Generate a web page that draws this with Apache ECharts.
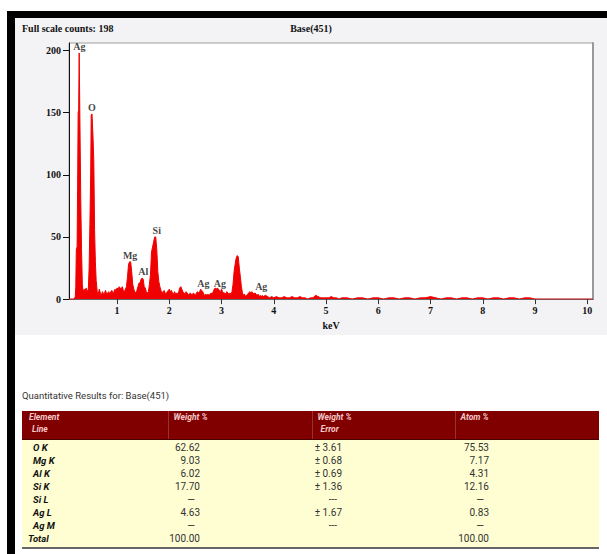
<!DOCTYPE html>
<html>
<head>
    <meta charset="utf-8">
    <title>Base(451) EDS spectrum</title>
    <script src="https://cdn.jsdelivr.net/npm/echarts@6/dist/echarts.min.js"></script>
    <style>
        body, html {
            margin: 0;
            width: 607px;
            height: 554px;
            overflow: hidden;
            background: #fff;
        }

        #frame {
            position: absolute;
            left: 7px;
            top: 11px;
            width: 600px;
            height: 543px;
            background: #000;
        }

        #sheet {
            position: absolute;
            left: 8px;
            top: 7px;
            right: 0;
            bottom: 0;
            background: #fff;
        }

        #spectrum {
            position: absolute;
            left: 0;
            top: 0;
            width: 592px;
            height: 317px;
            background: #f3f3f5;
        }

        #caption {
            position: absolute;
            left: 7px;
            top: 372px;
            font-family: Roboto, "Liberation Sans", sans-serif;
            font-size: 9.5px;
            line-height: 11px;
            color: #333;
        }

        #results {
            position: absolute;
            left: 7px;
            top: 393px;
            width: 577px;
            border-collapse: collapse;
            table-layout: fixed;
            font-family: Roboto, "Liberation Sans", sans-serif;
            font-size: 10px;
            color: #333;
        }

        #results th {
            background: #800000;
            color: #f4c8c8;
            font-size: 8.5px;
            font-style: italic;
            font-weight: bold;
            text-align: left;
            vertical-align: top;
            height: 28px;
            padding: 0 0 0 5px;
            line-height: 12px;
            border-left: 1px solid #9a3030;
            border-bottom: 1px solid #4a0000;
        }

        #results th:first-child {
            border-left: none;
            padding-left: 7px;
        }

        #results th span {
            padding-left: 3px;
        }

        #results td {
            background: #fefed2;
            height: 13px;
            line-height: 13px;
            padding: 0;
            text-align: right;
            white-space: nowrap;
        }

        #results td.el {
            text-align: left;
            padding-left: 11px;
            font-size: 9.5px;
            font-style: italic;
            font-weight: bold;
            color: #111;
        }

        #results td.total {
            padding-left: 6px;
        }

        #results tr.first td {
            padding-top: 1px;
        }

        #results tr.last td {
            padding-bottom: 2px;
            border-bottom: 2px solid #666;
        }
    </style>
</head>
<body>
<div id="frame">
    <div id="sheet">
        <div id="spectrum"></div>
        <div id="caption">Quantitative Results for: Base(451)</div>
        <table id="results"></table>
    </div>
</div>
<script type="text/javascript">
    var fullScale = 198;
    var sampleName = 'Base(451)';

    // spectrum: energy (keV) and counts
    var energy = [
        0.08, 0.18, 0.20, 0.21, 0.22, 0.235, 0.245, 0.255, 0.265, 0.275, 0.285, 0.295, 0.305, 0.32, 0.335,
        0.35, 0.37, 0.39, 0.41, 0.43, 0.45, 0.465, 0.48, 0.495, 0.505, 0.52, 0.53, 0.54, 0.555, 0.57,
        0.585, 0.60, 0.62, 0.64, 0.66, 0.68, 0.70, 0.72, 0.74, 0.76, 0.78, 0.80, 0.82, 0.84, 0.86,
        0.88, 0.90, 0.92, 0.94, 0.96, 0.98, 1.00, 1.02, 1.04, 1.06, 1.08, 1.10, 1.12, 1.14, 1.16,
        1.18, 1.20, 1.22, 1.24, 1.26, 1.28, 1.30, 1.32, 1.34, 1.36, 1.38, 1.40, 1.42, 1.44, 1.46,
        1.48, 1.50, 1.52, 1.54, 1.56, 1.58, 1.60, 1.62, 1.64, 1.66, 1.68, 1.70, 1.72, 1.74, 1.76,
        1.78, 1.80, 1.82, 1.84, 1.86, 1.88, 1.90, 1.92, 1.94, 1.96, 1.98, 2.00, 2.02, 2.04, 2.06,
        2.08, 2.10, 2.12, 2.14, 2.16, 2.18, 2.20, 2.22, 2.24, 2.26, 2.28, 2.30, 2.32, 2.34, 2.36,
        2.38, 2.40, 2.42, 2.44, 2.46, 2.48, 2.50, 2.52, 2.54, 2.56, 2.58, 2.60, 2.62, 2.64, 2.66,
        2.68, 2.70, 2.72, 2.74, 2.76, 2.78, 2.80, 2.82, 2.84, 2.86, 2.88, 2.90, 2.92, 2.94, 2.96,
        2.98, 3.00, 3.02, 3.04, 3.06, 3.08, 3.10, 3.12, 3.14, 3.16, 3.18, 3.20, 3.22, 3.24, 3.26,
        3.28, 3.30, 3.32, 3.34, 3.36, 3.38, 3.40, 3.42, 3.44, 3.46, 3.48, 3.50, 3.52, 3.54, 3.56,
        3.58, 3.60, 3.62, 3.64, 3.66, 3.68, 3.70, 3.72, 3.74, 3.76, 3.78, 3.80, 3.84, 3.88, 3.92,
        3.96, 4.00, 4.05, 4.10, 4.15, 4.20, 4.25, 4.30, 4.35, 4.40, 4.45, 4.50, 4.55, 4.60, 4.65,
        4.70, 4.75, 4.80, 4.85, 4.90, 4.95, 5.00, 5.05, 5.10, 5.15, 5.20, 5.25, 5.30, 5.40, 5.50,
        5.60, 5.70, 5.80, 5.90, 6.00, 6.10, 6.20, 6.30, 6.40, 6.50, 6.60, 6.70, 6.80, 6.90, 7.00,
        7.10, 7.20, 7.30, 7.40, 7.50, 7.60, 7.70, 7.80, 7.90, 8.00, 8.10, 8.20, 8.30, 8.40, 8.50,
        8.60, 8.70, 8.80, 8.90, 9.00, 9.10, 9.50, 10.11
    ];
    var counts = [
        0, 0, 2, 10, 40, 42, 90, 150, 152, 198, 198, 120, 80, 40, 12,
        6, 8, 7, 9, 6, 8, 25, 60, 100, 148, 149, 149, 130, 110, 55,
        30, 15, 6, 4, 8, 5, 3, 6, 4, 5, 7, 4, 5, 6, 4,
        6, 7, 5, 6, 8, 7, 9, 8, 10, 9, 8, 10, 7, 6, 8,
        10, 18, 28, 30, 30, 22, 12, 8, 6, 5, 7, 10, 13, 13, 16,
        17, 16, 10, 9, 6, 5, 6, 12, 20, 38, 42, 46, 50, 50, 40,
        22, 14, 10, 7, 6, 5, 7, 5, 4, 6, 7, 8, 6, 7, 5,
        4, 6, 4, 5, 4, 6, 9, 10, 8, 6, 5, 4, 6, 5, 4,
        3, 5, 4, 3, 5, 4, 3, 5, 6, 5, 6, 8, 7, 6, 4,
        3, 4, 3, 4, 3, 4, 5, 4, 6, 8, 9, 8, 9, 8, 7,
        6, 8, 6, 5, 5, 4, 6, 5, 4, 5, 4, 6, 12, 22, 28,
        33, 35, 34, 25, 18, 10, 5, 3, 4, 2, 3, 4, 5, 6, 5,
        6, 5, 4, 5, 4, 3, 4, 2, 3, 2, 3, 2, 3, 2, 1,
        2, 1, 2, 1, 1, 2, 1, 1, 2, 1, 1, 2, 1, 1, 0,
        1, 1, 3, 2, 1, 1, 1, 1, 2, 1, 1, 0, 1, 1, 0,
        1, 1, 0, 1, 1, 0, 1, 1, 0, 1, 1, 0, 1, 1, 2,
        1, 0, 1, 1, 0, 1, 1, 0, 1, 1, 0, 1, 1, 0, 1,
        1, 0, 1, 1, 0, 0, 0, 0
    ];

    // peak labels
    var peakNames = ['Ag', 'O', 'Mg', 'Al', 'Si', 'Ag', 'Ag', 'Ag'];
    var peakKeV = [0.28, 0.52, 1.25, 1.50, 1.76, 2.65, 2.97, 3.76];
    var peakCounts = [198, 149, 30, 17, 50, 7, 7, 5];

    var xTicks = [1, 2, 3, 4, 5, 6, 7, 8, 9, 10];
    var yTicks = [0, 50, 100, 150, 200];

    // quantitative results table
    var headTop = ['Element', 'Weight %', 'Weight %', 'Atom %'];
    var headBottom = ['Line', '', 'Error', ''];
    var elements = ['O K', 'Mg K', 'Al K', 'Si K', 'Si L', 'Ag L', 'Ag M', 'Total'];
    var weightPct = ['62.62', '9.03', '6.02', '17.70', '\u2014', '4.63', '\u2014', '100.00'];
    var weightErr = ['\u00b1 3.61', '\u00b1 0.68', '\u00b1 0.69', '\u00b1 1.36', '---', '\u00b1 1.67', '---', ''];
    var atomPct = ['75.53', '7.17', '4.31', '12.16', '\u2014', '0.83', '\u2014', '100.00'];

    var colWidths = [146, 144, 143, 144];
    var rightPads = [0, 112, 113, 110];

    function buildTable() {
        var html = '<colgroup>';
        colWidths.forEach(function (w) {
            html += '<col style="width:' + w + 'px">';
        });
        html += '</colgroup><tr>';
        for (var c = 0; c < headTop.length; c++) {
            html += '<th>' + headTop[c] + '<br><span>' + headBottom[c] + '</span></th>';
        }
        html += '</tr>';
        var cols = [weightPct, weightErr, atomPct];
        for (var r = 0; r < elements.length; r++) {
            var isTotal = elements[r] === 'Total';
            var cls = r === 0 ? ' class="first"' : (r === elements.length - 1 ? ' class="last"' : '');
            html += '<tr' + cls + '>';
            html += '<td class="el' + (isTotal ? ' total' : '') + '">' + elements[r] + '</td>';
            for (var k = 0; k < cols.length; k++) {
                var v = cols[k][r];
                var pad = rightPads[k + 1] + ((v === '\u2014' || v === '---') ? 5 : 0);
                html += '<td style="padding-right:' + pad + 'px">' + v + '</td>';
            }
            html += '</tr>';
        }
        document.getElementById('results').innerHTML = html;
    }

    buildTable();

    var serif = '"Liberation Serif", "Times New Roman", serif';
    var red = '#f00000';

    var spectrumData = energy.map(function (e, i) {
        return [e, counts[i]];
    });
    var peakData = peakKeV.map(function (e, i) {
        return {name: peakNames[i], value: [e, peakCounts[i]]};
    });

    var myChart = echarts.init(document.getElementById('spectrum'), null, {renderer: 'svg'});

    var option = {
        animation: false,
        textStyle: {
            fontFamily: serif
        },
        title: [
            {
                text: 'Full scale counts: ' + fullScale,
                left: 7,
                top: 5,
                padding: 0,
                textStyle: {fontFamily: serif, fontSize: 10, fontWeight: 'bold', color: '#111'}
            },
            {
                text: sampleName,
                left: 'center',
                top: 5,
                padding: 0,
                textStyle: {fontFamily: serif, fontSize: 10, fontWeight: 'bold', color: '#111'}
            }
        ],
        grid: {
            show: true,
            left: 54,
            top: 25,
            right: 14,
            bottom: 30,
            backgroundColor: '#fff',
            borderColor: '#a0a0a0',
            borderWidth: 1
        },
        xAxis: {
            type: 'value',
            min: 0.08,
            max: 10.11,
            name: 'keV',
            nameLocation: 'middle',
            nameGap: 16,
            nameTextStyle: {fontFamily: serif, fontSize: 10, fontWeight: 'bold', color: '#111'},
            axisLine: {lineStyle: {color: '#666'}},
            axisTick: {customValues: xTicks, length: 5, lineStyle: {color: '#333'}},
            axisLabel: {customValues: xTicks, margin: 6, fontFamily: serif, fontSize: 10, fontWeight: 'bold', color: '#111'},
            splitLine: {show: false}
        },
        yAxis: [
            {
                type: 'value',
                min: 0,
                max: 206,
                axisLine: {show: true, lineStyle: {color: '#111'}},
                axisTick: {show: true, customValues: yTicks, length: 6, lineStyle: {color: '#111'}},
                axisLabel: {customValues: yTicks, margin: 8, fontFamily: serif, fontSize: 10, fontWeight: 'bold', color: '#111'},
                splitLine: {show: false}
            },
            {
                type: 'value',
                position: 'right',
                min: 0,
                max: 206,
                axisLine: {show: true, lineStyle: {color: '#999', width: 2}},
                axisTick: {show: false},
                axisLabel: {show: false},
                splitLine: {show: false}
            }
        ],
        series: [
            {
                name: 'counts',
                type: 'line',
                data: spectrumData,
                showSymbol: false,
                symbol: 'none',
                lineStyle: {color: red, width: 1},
                areaStyle: {color: red, opacity: 1},
                z: 2
            },
            {
                name: 'peaks',
                type: 'scatter',
                data: peakData,
                symbolSize: 1,
                itemStyle: {color: 'rgba(0,0,0,0)'},
                label: {
                    show: true,
                    position: 'top',
                    distance: 1,
                    formatter: '{b}',
                    fontFamily: serif,
                    fontSize: 10,
                    fontWeight: 'bold',
                    color: '#111'
                },
                z: 3
            }
        ]
    };

    myChart.setOption(option);
</script>
</body>
</html>
